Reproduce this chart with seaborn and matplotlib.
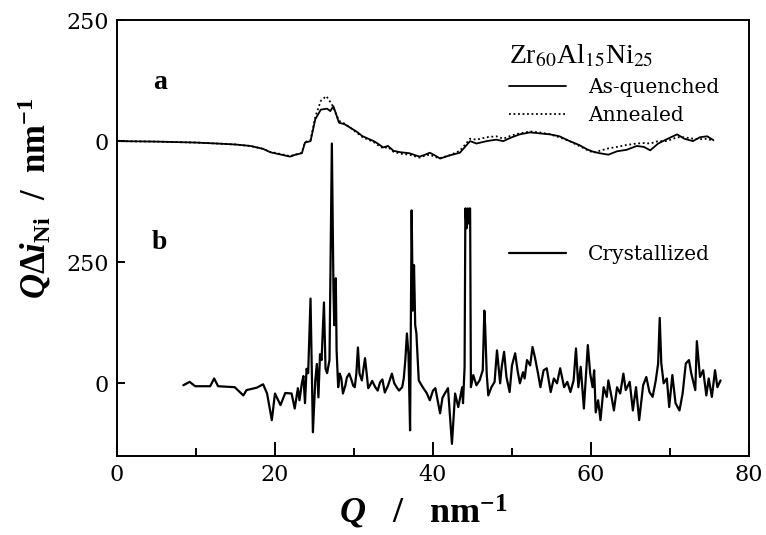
import pandas as pd
import matplotlib
matplotlib.use("Agg")
import matplotlib.pyplot as plt
import seaborn as sns
from matplotlib.lines import Line2D

# ----------------------------------------------------------
# Data
# ----------------------------------------------------------

OFFSET_A = 500  # curve a is shifted up by 500

q_quenched = [0, 5, 10, 12.7, 15, 16.9, 18.5, 19.4, 20.8, 21.9, 22.6, 23.4, 23.8, 24.5,
              25.1, 25.8, 26.6, 27.0, 27.4, 28.1, 28.8, 29.5, 30.3, 31.1, 32.5, 33.0,
              33.7, 34.3, 35.0, 35.9, 37.0, 38.3, 39.0, 39.6, 40.3, 40.9, 42.0, 43.4,
              44.7, 45.5, 46.8, 48.0, 48.9, 50.0, 51.0, 52.3, 53.5, 54.8, 56.0, 57.3,
              58.5, 59.5, 60.3, 61.1, 62.2, 63.3, 64.5, 65.8, 66.7, 67.5, 68.5, 69.6,
              70.9, 71.8, 72.9, 73.8, 74.7, 75.5]
v_quenched = [0, -1, -3, -5, -7, -10, -16, -23, -28, -32, -28, -25, -3, 0,
              45, 65, 67, 62, 72, 38, 35, 28, 20, 10, 0, -5,
              -13, -10, -20, -23, -25, -32, -28, -24, -30, -36, -30, -24,
              0, -5, 0, 3, 0, 8, 14, 18, 16, 14, 10, 0,
              -8, -17, -22, -25, -28, -21, -18, -10, -12, -19, -5, 4,
              14, 5, 0, 8, 10, 2]

q_annealed = [0, 5, 10, 12.7, 15, 16.9, 18.5, 19.4, 20.8, 21.9, 22.6, 23.4, 23.8, 24.5,
              25.1, 25.8, 26.5, 27.2, 28.1, 28.8, 29.5, 30.3, 31.1, 32.5, 33.0,
              33.7, 34.3, 35.0, 35.9, 37.0, 38.3, 39.0, 39.6, 40.3, 40.9, 42.0, 43.4,
              44.7, 45.5, 46.8, 48.0, 48.9, 50.0, 51.0, 52.3, 53.5, 54.8, 56.0, 57.3,
              58.5, 59.5, 60.3, 61.1, 62.2, 63.3, 64.5, 65.8, 66.7, 67.5, 68.5, 69.6,
              70.9, 71.8, 72.9, 73.8, 74.7, 75.5]
v_annealed = [0, -1, -3, -5, -7, -10, -16, -22, -27, -31, -28, -24, -2, 2,
              50, 83, 93, 76, 42, 36, 28, 18, 8, -2, -8,
              -15, -12, -22, -26, -28, -34, -30, -28, -33, -35, -30, -20,
              5, 3, 8, 10, 5, 12, 16, 20, 18, 14, 8, 0,
              -10, -18, -24, -20, -15, -12, -8, -5, -4, -5, 0, 0,
              8, 8, 5, 4, 5, 0]

q_cryst = [8.4, 9.2, 9.9, 11.8, 12.3, 12.8, 14.9, 16.0, 16.4, 17.7, 18.5, 19.0, 19.6,
           20.0, 20.7, 21.3, 22.1, 22.5, 22.9, 23.1, 23.4, 23.6, 23.8, 24.0, 24.2,
           24.5, 24.8, 25.1, 25.3, 25.5, 25.7, 25.9, 26.2, 26.4, 26.6, 26.9, 27.2,
           27.4, 27.5, 27.7, 27.8, 28.0, 28.2, 28.4, 28.6, 28.9, 29.1, 29.4, 29.7,
           29.9, 30.1, 30.3, 30.5, 30.7, 31.0, 31.2, 31.4, 31.8, 32.0, 32.3, 32.7,
           33.0, 33.3, 33.6, 33.9, 34.3, 34.6, 34.8, 35.1, 35.4, 35.7, 36.1, 36.3,
           36.5, 36.7, 36.9, 37.1, 37.3, 37.45, 37.6, 37.75, 37.9, 38.2, 38.7, 39.2,
           39.6, 40.0, 40.3, 40.9, 41.2, 41.5, 41.9, 42.4, 42.8, 43.2, 43.7, 43.8,
           44.0, 44.1, 44.25, 44.35, 44.5, 44.6, 44.7, 44.8, 45.1, 45.5, 45.9, 46.3,
           46.5, 46.6, 46.8, 47.0, 47.4, 47.8, 48.1, 48.5, 48.7, 49.0, 49.3, 49.7,
           50.0, 50.4, 50.7, 51.0, 51.4, 51.6, 51.9, 52.3, 52.6, 52.9, 53.3, 53.6,
           54.0, 54.4, 54.9, 55.3, 55.7, 56.1, 56.6, 57.0, 57.4, 57.8, 58.1, 58.4,
           58.7, 59.1, 59.4, 59.6, 59.9, 60.2, 60.4, 60.6, 60.9, 61.2, 61.6, 62.0,
           62.2, 62.6, 62.9, 63.3, 63.7, 64.1, 64.4, 64.9, 65.3, 65.7, 66.1, 66.6,
           67.0, 67.4, 67.8, 68.2, 68.5, 68.7, 68.9, 69.2, 69.6, 69.9, 70.3, 70.7,
           71.2, 71.6, 72.0, 72.4, 72.7, 73.2, 73.4, 73.8, 74.2, 74.6, 74.9, 75.3,
           75.7, 76.0, 76.4]
v_cryst = [-4, 3, -6, -6, 10, -6, -8, -25, -14, -9, -2, -21, -76,
           -21, -45, -20, -21, -52, -10, -35, 0, 15, -41, 30, 21,
           175, -101, 6, 40, -29, 60, 48, 167, 30, 21, 48, 495,
           198, 120, 217, 68, -8, 20, 10, -21, -5, 12, 20, 6,
           -5, -8, 20, 74, 20, 6, 30, 52, -10, -5, 5, -8,
           -15, 2, 8, -19, -5, 10, 20, 0, -8, -15, -8, 10,
           48, 103, 60, -97, 357, 150, 244, 120, 103, 6, -8, -20,
           -35, -15, -10, -62, -30, -21, -10, -125, -21, -49, -8, -41,
           33, 361, 320, 361, 330, 361, 361, -8, 17, -4, 6, 27,
           150, 120, 20, -25, -8, 3, 68, 0, 34, 65, 13, -18,
           37, 62, 27, 0, 23, 10, 48, 37, 75, 54, 20, -8,
           27, 31, -18, 10, 0, 31, -8, 3, -18, 6, 72, -8,
           34, -52, 27, 79, 20, -8, 27, -60, -35, -76, -8, -28,
           6, -28, -56, -8, -21, 20, -14, 3, -56, -8, -76, -4,
           13, -18, -28, 6, 41, 135, 41, 0, 10, -49, 17, -41,
           -56, -21, 41, 48, 20, -14, 87, 13, 27, -25, 10, -28,
           27, -8, 6]

x_ticks = [0, 20, 40, 60, 80]
x_minor = [10, 30, 50, 70]
y_ticks = [0, 250, 500, 750]
y_tick_labels = ["0", "250", "0", "250"]

df_q = pd.DataFrame({"Q": q_quenched, "v": [v + OFFSET_A for v in v_quenched]})
df_a = pd.DataFrame({"Q": q_annealed, "v": [v + OFFSET_A for v in v_annealed]})
df_c = pd.DataFrame({"Q": q_cryst, "v": v_cryst})

# ----------------------------------------------------------
# Style
# ----------------------------------------------------------

sns.set_style("ticks")
plt.rcParams["font.family"] = ["DejaVu Serif"]
plt.rcParams["text.color"] = "black"
plt.rcParams["axes.labelcolor"] = "black"
plt.rcParams["mathtext.fontset"] = "custom"
plt.rcParams["mathtext.rm"] = "Liberation Serif:bold"
plt.rcParams["mathtext.it"] = "Liberation Serif:italic:bold"
plt.rcParams["mathtext.bf"] = "Liberation Serif:bold"

fig = plt.figure(figsize=(7.66, 5.35), dpi=100)
ax = fig.add_axes([0.1527, 0.1477, 0.8251, 0.8149])

sns.lineplot(data=df_q, x="Q", y="v", ax=ax, color="black", lw=1.3,
             sort=False, estimator=None)
sns.lineplot(data=df_a, x="Q", y="v", ax=ax, color="black", lw=1.3,
             linestyle=(0, (1, 1.5)), sort=False, estimator=None)
sns.lineplot(data=df_c, x="Q", y="v", ax=ax, color="black", lw=1.6,
             sort=False, estimator=None)

ax.set_xlim(0, 80)
ax.set_ylim(-150, 750)
ax.set_xticks(x_ticks)
ax.set_xticks(x_minor, minor=True)
ax.set_yticks(y_ticks)
ax.set_yticklabels(y_tick_labels)
ax.tick_params(axis="both", which="both", direction="in", colors="black",
               labelsize=16, width=1.4)
ax.tick_params(axis="x", which="major", length=10, pad=6)
ax.tick_params(axis="x", which="minor", length=6)
ax.tick_params(axis="y", which="major", length=6, pad=6)
for s in ax.spines.values():
    s.set_linewidth(1.4)
    s.set_color("black")

ax.set_xlabel(r"$Q$   /   nm$^{-1}$", fontsize=26, fontweight="bold",
              family="Liberation Serif", color="black")
ax.set_ylabel(r"$Q\Delta i_{\mathrm{Ni}}$  /  nm$^{-1}$", fontsize=25,
              fontweight="bold", family="Liberation Serif", color="black")
ax.xaxis.set_label_coords(0.485, -0.085)
ax.yaxis.set_label_coords(-0.1, 0.59)

ax.text(5.4, 620, "a", fontsize=20, fontweight="bold", family="Liberation Serif",
        ha="center", va="center", color="black")
ax.text(5.4, 291, "b", fontsize=20, fontweight="bold", family="Liberation Serif",
        ha="center", va="center", color="black")

# legends
h1 = [Line2D([], [], color="black", lw=1.3),
      Line2D([], [], color="black", lw=1.3, linestyle=(0, (1, 1.5)))]
leg1 = ax.legend(h1, ["As-quenched", "Annealed"], loc="upper left",
                 bbox_to_anchor=(0.592, 0.99), frameon=False, fontsize=14.5,
                 handlelength=2.8, handletextpad=1.1, labelspacing=0.45,
                 title=r"Zr$_{60}$Al$_{15}$Ni$_{25}$", alignment="left",
                 labelcolor="black")
leg1.get_title().set_fontsize(20)
leg1.get_title().set_family("Liberation Serif")
leg1.get_title().set_math_fontfamily("stix")
leg1.get_title().set_color("black")
ax.add_artist(leg1)

h2 = [Line2D([], [], color="black", lw=1.6)]
ax.legend(h2, ["Crystallized"], loc="upper left", bbox_to_anchor=(0.592, 0.525),
          frameon=False, fontsize=14.5, handlelength=2.8, handletextpad=1.1,
          labelcolor="black")

fig.savefig("out.png", dpi=100)
